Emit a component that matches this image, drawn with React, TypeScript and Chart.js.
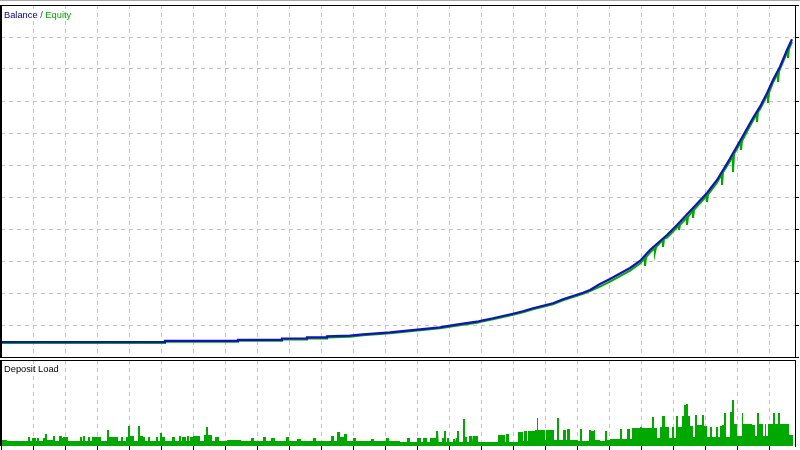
import React, { useEffect, useRef } from 'react';
import { Chart, registerables } from 'chart.js';

Chart.register(...registerables);

// ---- Data (x = trade number, balance/equity in $, deposit load in %) ----
const totalTrades = 794;
const gridTrades = [0, 32, 64, 96, 128, 160, 192, 224, 256, 288, 320, 352, 384, 416, 448, 480, 512, 544, 576, 608, 640, 672, 704, 736, 768];
const valueTicks = [0, 20000, 40000, 60000, 80000, 100000, 120000, 140000, 160000, 180000, 200000, 220000];
const valueMax = 220000;
const loadMax = 86;

const balanceTrades = [0, 164, 164, 237, 237, 281, 281, 306, 306, 326, 326, 349, 362, 376, 389, 399, 409, 419, 429, 439, 449, 462, 476, 482, 492, 502, 512, 522, 532, 542, 552, 562, 572, 582, 589, 599, 609, 619, 629, 639, 649, 666, 676, 692, 706, 716, 729, 739, 752, 759, 766, 772, 779, 786, 791];
const balanceValues = [9375, 9375, 10125, 10125, 10750, 10750, 11563, 11563, 12250, 12250, 12875, 13313, 14188, 14813, 15438, 16063, 16688, 17313, 17938, 18563, 19563, 20813, 22063, 22938, 24188, 25625, 27063, 28563, 30438, 32063, 33563, 36063, 38125, 40188, 41875, 45625, 48750, 52188, 55625, 60000, 66875, 76250, 82500, 93125, 102500, 110625, 124063, 135000, 149375, 156438, 164813, 173125, 181438, 191875, 198563];

const equityTrades = [0, 164, 164, 237, 237, 281, 281, 306, 306, 326, 326, 349, 362, 376, 389, 399, 409, 419, 429, 439, 449, 462, 476, 482, 492, 502, 512, 522, 532, 542, 552, 562, 572, 582, 589, 599, 609, 619, 629, 639, 644, 644, 645, 649, 654, 654, 655, 662, 662, 663, 666, 676, 678, 678, 679, 686, 686, 687, 692, 692, 693, 706, 706, 707, 716, 721, 721, 722, 729, 732, 732, 733, 739, 740, 740, 741, 752, 756, 756, 757, 759, 766, 767, 767, 768, 772, 777, 777, 778, 779, 786, 787, 787, 788, 791];
const equityValues = [8750, 8750, 9500, 9500, 10125, 10125, 10938, 10938, 11625, 11625, 12250, 12688, 13563, 14188, 14813, 15438, 16063, 16688, 17313, 17938, 18938, 20188, 21438, 22313, 23563, 25000, 26438, 27938, 29813, 31438, 32938, 35438, 37500, 39563, 41250, 44000, 47150, 50600, 54000, 58400, 61875, 56875, 62300, 65300, 68125, 65625, 68600, 73438, 68750, 73800, 74650, 80900, 82188, 79375, 82600, 87188, 82500, 87600, 91563, 86875, 92000, 100938, 96875, 101500, 109000, 114375, 107500, 115300, 122400, 125750, 115625, 126900, 133400, 134300, 129375, 135000, 147800, 151800, 146875, 153000, 154900, 163200, 164375, 158750, 165300, 171500, 177500, 171875, 178400, 179900, 190300, 191563, 186875, 192500, 197000];

const loadTrades = [0, 6, 27, 29, 31, 35, 36, 38, 42, 44, 46, 52, 54, 58, 61, 62, 67, 79, 81, 82, 84, 87, 89, 91, 100, 106, 108, 117, 120, 122, 125, 127, 129, 133, 137, 139, 142, 144, 147, 149, 155, 157, 159, 161, 164, 171, 174, 178, 180, 181, 185, 186, 188, 189, 192, 199, 203, 205, 207, 211, 214, 218, 226, 240, 250, 253, 262, 265, 270, 274, 285, 288, 296, 300, 312, 315, 330, 333, 336, 339, 343, 346, 352, 355, 370, 373, 385, 388, 399, 406, 409, 416, 420, 422, 426, 429, 435, 437, 438, 441, 443, 445, 446, 448, 452, 454, 455, 456, 458, 462, 464, 466, 468, 471, 472, 477, 497, 504, 505, 508, 517, 522, 523, 526, 527, 534, 536, 537, 544, 545, 553, 556, 558, 562, 565, 566, 569, 577, 579, 581, 588, 590, 593, 594, 599, 604, 606, 609, 619, 621, 626, 629, 631, 639, 641, 651, 653, 656, 659, 661, 664, 668, 671, 673, 675, 677, 681, 683, 685, 687, 689, 692, 694, 696, 701, 703, 706, 709, 711, 715, 717, 719, 721, 723, 725, 729, 731, 733, 736, 741, 742, 751, 754, 756, 758, 762, 764, 765, 767, 772, 774, 777, 779, 788, 792];
const loadValues = [6, 5, 9, 5, 8, 5, 8, 5, 8, 12, 6, 10, 5, 10, 8, 9, 5, 9, 5, 10, 5, 9, 5, 9, 5, 16, 9, 5, 9, 5, 9, 20, 10, 5, 20, 10, 9, 5, 9, 5, 9, 5, 13, 9, 5, 9, 5, 10, 5, 9, 5, 10, 5, 9, 10, 5, 11, 19, 11, 5, 9, 5, 6, 5, 8, 5, 9, 5, 8, 5, 9, 5, 7, 5, 8, 5, 10, 5, 14, 9, 12, 5, 8, 5, 7, 5, 8, 5, 4, 8, 4, 8, 4, 8, 4, 8, 15, 8, 4, 8, 15, 4, 8, 4, 7, 4, 8, 15, 4, 27, 9, 4, 10, 4, 10, 4, 11, 4, 12, 4, 14, 5, 15, 5, 15, 16, 28, 16, 6, 16, 6, 28, 6, 16, 6, 17, 6, 5, 17, 5, 16, 15, 16, 6, 5, 15, 6, 7, 17, 7, 17, 7, 18, 19, 18, 29, 18, 8, 19, 30, 19, 8, 19, 8, 30, 19, 30, 41, 42, 30, 20, 9, 31, 21, 31, 20, 9, 19, 9, 19, 9, 20, 21, 33, 9, 34, 46, 22, 10, 33, 22, 21, 10, 33, 22, 10, 22, 10, 22, 33, 22, 33, 22, 11, 0];

// ---- Styles ----
const BLUE = '#1212bc';
const BLUE_TEXT = '#00008c';
const GREEN = '#00a800';
const GRID = '#c4c4c4';
const FONT = '9.3px "Liberation Sans", Arial, sans-serif';

function pts(xs: number[], ys: number[]) {
  return xs.map((x, i) => ({ x, y: ys[i] }));
}

function stepArea(xs: number[], ys: number[], end: number) {
  const out: { x: number; y: number }[] = [];
  xs.forEach((x, i) => {
    const next = i + 1 < xs.length ? xs[i + 1] : end;
    out.push({ x, y: ys[i] });
    out.push({ x: next, y: ys[i] });
  });
  return out;
}

function frame(drawBottom: boolean, title: (ctx: CanvasRenderingContext2D) => void) {
  return {
    id: 'frame',
    afterDraw(chart: any) {
      const { ctx, chartArea } = chart;
      const { left, top, right, bottom } = chartArea;
      ctx.save();
      ctx.fillStyle = '#000';
      ctx.fillRect(0, top, right + 1, 1);
      ctx.fillRect(right, top, 1, bottom - top + 1);
      if (drawBottom) ctx.fillRect(0, bottom, right + 1, 1);
      ctx.fillRect(0, top, Math.max(2, left + 1), bottom - top + (drawBottom ? 1 : 0));
      title(ctx);
      ctx.restore();
    },
  };
}

export default function App() {
  const topRef = useRef<HTMLCanvasElement>(null);
  const botRef = useRef<HTMLCanvasElement>(null);

  useEffect(() => {
    const xTicks = (s: any) => {
      s.ticks = gridTrades.map((v) => ({ value: v }));
    };
    const topChart = new Chart(topRef.current as HTMLCanvasElement, {
      type: 'line',
      data: {
        datasets: [
          {
            label: 'Balance',
            data: pts(balanceTrades, balanceValues),
            borderColor: BLUE,
            borderWidth: 2.2,
            pointRadius: 0,
            tension: 0,
            fill: false,
          },
          {
            label: 'Equity',
            data: pts(equityTrades, equityValues),
            borderColor: GREEN,
            borderWidth: 2,
            pointRadius: 0,
            tension: 0,
            fill: false,
          },
        ],
      },
      options: {
        animation: false,
        responsive: false,
        devicePixelRatio: 1,
        events: [],
        layout: { padding: { top: 5, left: 1, right: 1, bottom: 1 } },
        plugins: { legend: { display: false }, tooltip: { enabled: false } },
        scales: {
          x: {
            type: 'linear',
            position: 'bottom',
            min: 0,
            max: totalTrades,
            afterBuildTicks: xTicks,
            afterFit: (s: any) => { s.height = 0; },
            ticks: { display: false },
            grid: { color: GRID, lineWidth: 1, drawTicks: false },
            border: { display: false, dash: [4, 4] },
          },
          y: {
            type: 'linear',
            position: 'right',
            min: 0,
            max: valueMax,
            afterBuildTicks: (s: any) => { s.ticks = valueTicks.map((v) => ({ value: v })); },
            afterFit: (s: any) => { s.width = 4; },
            ticks: { display: false },
            grid: { color: GRID, lineWidth: 1, drawTicks: true, tickLength: 4, tickColor: '#000', tickWidth: 1 },
            border: { display: false, dash: [4, 4] },
          },
        },
      },
      plugins: [
        frame(true, (ctx) => {
          ctx.font = FONT;
          ctx.textBaseline = 'alphabetic';
          let x = 4;
          ctx.fillStyle = BLUE_TEXT;
          ctx.fillText('Balance', x, 18);
          x += ctx.measureText('Balance').width;
          ctx.fillStyle = '#333';
          ctx.fillText(' / ', x, 18);
          x += ctx.measureText(' / ').width;
          ctx.fillStyle = GREEN;
          ctx.fillText('Equity', x, 18);
        }),
      ],
    } as any);

    const botChart = new Chart(botRef.current as HTMLCanvasElement, {
      type: 'line',
      data: {
        datasets: [
          {
            label: 'Deposit Load',
            data: stepArea(loadTrades, loadValues, totalTrades),
            borderColor: 'rgba(0,0,0,0)',
            borderWidth: 0,
            backgroundColor: GREEN,
            pointRadius: 0,
            tension: 0,
            fill: 'origin',
          },
        ],
      },
      options: {
        animation: false,
        responsive: false,
        devicePixelRatio: 1,
        events: [],
        layout: { padding: { top: 2, left: 1, right: 1, bottom: 0 } },
        plugins: { legend: { display: false }, tooltip: { enabled: false } },
        scales: {
          x: {
            type: 'linear',
            position: 'bottom',
            min: 0,
            max: totalTrades,
            afterBuildTicks: xTicks,
            afterFit: (s: any) => { s.height = 4; },
            ticks: { display: false },
            grid: { color: GRID, lineWidth: 1, drawTicks: true, tickLength: 4, tickColor: '#000', tickWidth: 1 },
            border: { display: false, dash: [4, 4] },
          },
          y: {
            type: 'linear',
            position: 'right',
            min: 0,
            max: loadMax,
            afterFit: (s: any) => { s.width = 4; },
            ticks: { display: false },
            grid: { display: false },
            border: { display: false },
          },
        },
      },
      plugins: [
        frame(false, (ctx) => {
          ctx.font = FONT;
          ctx.textBaseline = 'alphabetic';
          ctx.fillStyle = '#000';
          ctx.fillText('Deposit Load', 4, 14);
        }),
      ],
    } as any);

    return () => {
      topChart.destroy();
      botChart.destroy();
    };
  }, []);

  return (
    <div style={{ position: 'fixed', left: 0, top: 0, width: 800, height: 450, background: '#fff', overflow: 'hidden' }}>
      <div style={{ position: 'absolute', left: 0, top: 0, width: 800, height: 1, background: '#a8a8a8' }} />
      <canvas ref={topRef} width={800} height={358} style={{ position: 'absolute', left: 0, top: 0, width: 800, height: 358 }} />
      <canvas ref={botRef} width={800} height={92} style={{ position: 'absolute', left: 0, top: 358, width: 800, height: 92 }} />
    </div>
  );
}
